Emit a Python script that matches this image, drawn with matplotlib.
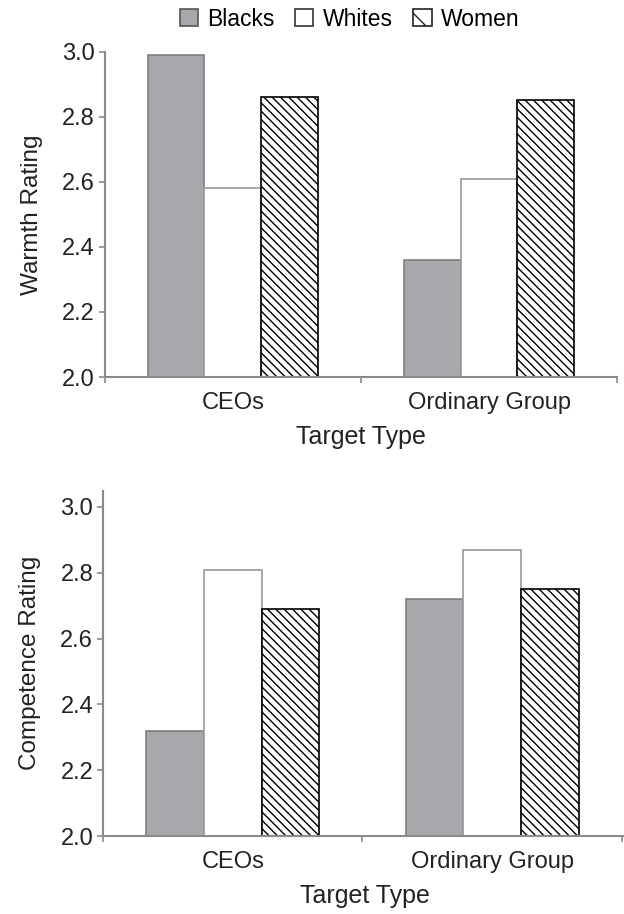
import numpy as np
import matplotlib.pyplot as plt
from matplotlib.patches import Patch

plt.rcParams['font.family'] = ['Liberation Sans', 'DejaVu Sans']
plt.rcParams['hatch.linewidth'] = 1.0

# data
groups = ['CEOs', 'Ordinary Group']
series = ['Blacks', 'Whites', 'Women']
warmth_blacks = [2.99, 2.36]
warmth_whites = [2.58, 2.61]
warmth_women = [2.86, 2.85]
comp_blacks = [2.32, 2.72]
comp_whites = [2.81, 2.87]
comp_women = [2.69, 2.75]
yticks = [2.0, 2.2, 2.4, 2.6, 2.8, 3.0]

gray = '#a7a8ab'
axis_col = '#8a8a8a'
txt = '#222222'

fig = plt.figure(figsize=(6.24, 9.14), dpi=100)
ax1 = fig.add_axes([0.168, 0.5875, 0.821, 0.356])
ax2 = fig.add_axes([0.165, 0.0853, 0.840, 0.378])

x = np.arange(len(groups))
w = 0.222


# bars sit on the 2.0 baseline
def draw(ax, blacks, whites, women, ylabel, ytop, xright):
    ax.bar(x - w, np.array(blacks) - 2, w, bottom=2, color=gray, edgecolor='#7f7f7f', linewidth=1.2)
    ax.bar(x, np.array(whites) - 2, w, bottom=2, color='white', edgecolor='#999999', linewidth=1.2)
    ax.bar(x + w, np.array(women) - 2, w, bottom=2, color='white', edgecolor='black',
           hatch='\\\\\\\\', linewidth=1.2)
    ax.set_ylim(2.0, ytop)
    ax.set_xlim(-0.5, xright)
    ax.set_yticks(yticks)
    ax.set_yticklabels(['%.1f' % t for t in yticks])
    ax.set_xticks(x)
    ax.set_xticklabels(groups)
    ax.set_xticks([-0.5, 0.5, 1.5], minor=True)
    ax.tick_params(axis='x', which='major', length=0, pad=11, labelsize=17, colors=txt)
    ax.tick_params(axis='x', which='minor', length=4, color=axis_col, width=1.2)
    ax.tick_params(axis='y', length=4, color=axis_col, width=1.2, labelsize=17,
                   labelcolor=txt, pad=3)
    for s in ['top', 'right']:
        ax.spines[s].set_visible(False)
    for s in ['left', 'bottom']:
        ax.spines[s].set_color(axis_col)
        ax.spines[s].set_linewidth(1.5)
    ax.set_ylabel(ylabel, fontsize=17.5, color=txt, labelpad=14)
    ax.set_xlabel('Target Type', fontsize=18, color=txt, labelpad=8)


draw(ax1, warmth_blacks, warmth_whites, warmth_women, 'Warmth Rating', 3.0, 1.5)
draw(ax2, comp_blacks, comp_whites, comp_women, 'Competence Rating', 3.05, 1.52)

handles = [Patch(facecolor=gray, edgecolor='#555555', linewidth=1.2),
           Patch(facecolor='white', edgecolor='#333333', linewidth=1.2),
           Patch(facecolor='white', edgecolor='#222222', hatch='\\', linewidth=1.2)]
fig.legend(handles, series, loc='center', bbox_to_anchor=(0.56, 0.979), ncol=3,
           frameon=False, fontsize=16.5, handlelength=0.8, handleheight=0.8,
           handletextpad=0.4, columnspacing=0.9, borderpad=0)

plt.savefig('out.png', dpi=100)
